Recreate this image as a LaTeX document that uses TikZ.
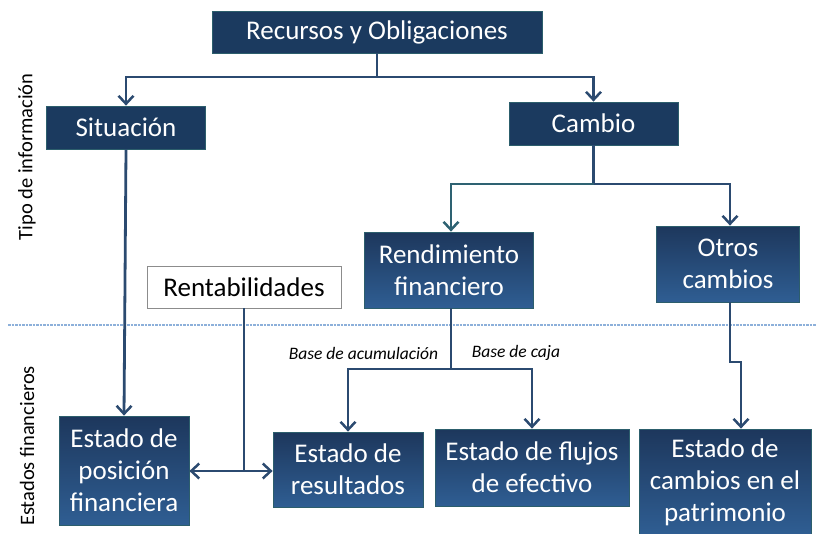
\documentclass[tikz,border=0pt]{standalone}
\usepackage{fontspec}
\setmainfont{Carlito}
\usetikzlibrary{arrows.meta}
\definecolor{navy}{HTML}{1B3A5F}
\definecolor{gtop}{HTML}{1D375C}
\definecolor{gbot}{HTML}{2F5E93}
\definecolor{bord}{HTML}{2C5E6C}
\definecolor{linec}{HTML}{2B4A70}
\definecolor{tealc}{HTML}{2E6272}
\definecolor{dashc}{HTML}{8DB0DA}
\tikzset{
  flatbox/.style={draw=bord, line width=0.8pt, fill=navy, text=white, align=center,
    inner sep=0pt, font=\fontsize{27}{32}\selectfont},
  gradbox/.style={draw=bord, line width=0.8pt, top color=gtop, bottom color=gbot, text=white,
    align=center, inner sep=0pt, font=\fontsize{27}{32}\selectfont},
  whitebox/.style={draw=black!45, line width=0.8pt, fill=white, text=black, align=center,
    inner sep=0pt, font=\fontsize{27}{32}\selectfont},
  conn/.style={draw=linec, line width=2.8pt},
  arr/.style={conn, -{Straight Barb[length=8pt,width=15pt,line width=2.5pt]}},
  darr/.style={conn, {Straight Barb[length=8pt,width=15pt,line width=2.5pt]}-{Straight Barb[length=8pt,width=15pt,line width=2.5pt]}},
  lbl/.style={font=\fontsize{17.5}{20}\selectfont\itshape, text=black, inner sep=0pt},
  side/.style={font=\fontsize{20.5}{24}\selectfont, text=black, rotate=90, inner sep=0pt}
}
\begin{document}
\begin{tikzpicture}[x=1pt,y=-1pt]
\useasboundingbox (0,0) rectangle (816,533);
% dashed separator
\draw[dashc, line width=1.2pt, dash pattern=on 2.5pt off 1pt] (8,325) -- (816,325);

% nodes
\node[flatbox, minimum width=330pt, minimum height=42pt] (rec) at (377,32) {Recursos y Obligaciones};
\node[flatbox, minimum width=159pt, minimum height=43pt] (sit) at (126,127.5) {Situación};
\node[flatbox, minimum width=169pt, minimum height=43pt] (cam) at (593.5,123.5) {Cambio};
\node[gradbox, minimum width=169pt, minimum height=76pt] (ren) at (449,270) {Rendimiento\\financiero};
\node[gradbox, minimum width=143pt, minimum height=76pt] (otr) at (728,264) {Otros\\cambios};
\node[whitebox, minimum width=194pt, minimum height=42pt] (rent) at (244,287) {Rentabilidades};
\node[gradbox, minimum width=130pt, minimum height=109pt] (epf) at (124,470.5) {Estado de\\posición\\financiera};
\node[gradbox, minimum width=150pt, minimum height=75pt] (eres) at (348,469.5) {Estado de\\resultados};
\node[gradbox, minimum width=194pt, minimum height=77pt] (eflu) at (532,467.5) {Estado de flujos\\de efectivo};
\node[gradbox, minimum width=172pt, minimum height=106pt] (ecam) at (725,482) {Estado de\\cambios en el\\patrimonio};

% side labels
\node[side] (tipo) at (27,157) {Tipo de información};
\node[side] (estf) at (27,446) {Estados financieros};

% italic labels
\node[lbl] (bacu) at (363.5,353) {Base de acumulación};
\node[lbl] (bcaj) at (516,353) {Base de caja};

% connectors
\coordinate (j1) at (377,77);
\draw[conn] (rec.south) -- (j1);
\draw[arr] (j1) -| (sit.north);
\draw[arr] (j1) -| (cam.north);
\draw[arr] (sit.south) -- (epf.north);

\coordinate (j2) at (593.5,184);
\draw[conn] (cam.south) -- (j2);
\draw[arr, draw=tealc] (j2) -| (ren.north -| 451,0);
\draw[arr] (j2) -| (otr.north -| 730,0);

\coordinate (j3) at (451,369);
\draw[conn] (ren.south -| j3) -- (j3);
\draw[arr] (j3) -| (eres.north);
\draw[arr] (j3) -| (eflu.north);

\coordinate (k1) at (730,362);
\coordinate (k2) at (741,362);
\draw[arr] (otr.south -| k1) -- (k1) -- (k2) -- (ecam.north -| k2);

\coordinate (m1) at (244,471);
\draw[conn] (rent.south) -- (m1);
\draw[darr] (epf.east |- m1) -- (eres.west |- m1);
\end{tikzpicture}
\end{document}
